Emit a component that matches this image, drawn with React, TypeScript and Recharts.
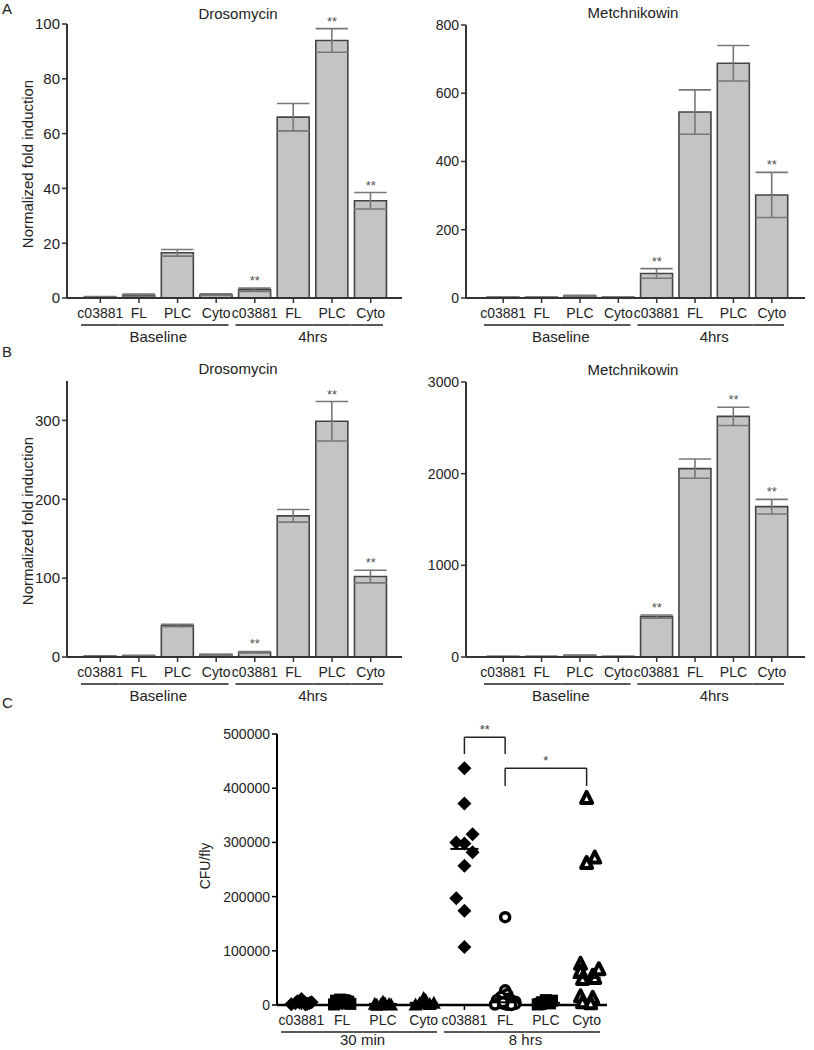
import React from 'react';
import {
  ComposedChart,
  Bar,
  ErrorBar,
  Line,
  LabelList,
  XAxis,
  YAxis,
  ScatterChart,
  Scatter,
  ReferenceLine,
} from 'recharts';

const categories = ['c03881', 'FL', 'PLC', 'Cyto', 'c03881', 'FL', 'PLC', 'Cyto'];
const barGroups = ['Baseline', '4hrs'];
const cfuGroups = ['30 min', '8 hrs'];

// A - fold induction
const aDrosoMean = [0.3, 1.0, 16.5, 1.2, 3.0, 66, 94, 35.5];
const aDrosoSem = [0.2, 0.4, 1.2, 0.3, 0.6, 5, 4.3, 3];
const aDrosoSig = ['', '', '', '', '**', '', '**', '**'];
const aDrosoTicks = [0, 20, 40, 60, 80, 100];

const aMetchMean = [2, 2, 6, 2, 72, 545, 688, 302];
const aMetchSem = [1, 1, 2, 1, 14, 65, 52, 66];
const aMetchSig = ['', '', '', '', '**', '', '', '**'];
const aMetchTicks = [0, 200, 400, 600, 800];

// B - fold induction
const bDrosoMean = [1, 1.5, 40, 3, 6, 179, 299, 102];
const bDrosoSem = [0.5, 0.5, 1.5, 0.5, 1, 8, 25, 8];
const bDrosoSig = ['', '', '', '', '**', '', '**', '**'];
const bDrosoTicks = [0, 100, 200, 300];

const bMetchMean = [5, 5, 15, 5, 440, 2055, 2625, 1640];
const bMetchSem = [2, 2, 5, 2, 18, 105, 100, 80];
const bMetchSig = ['', '', '', '', '**', '', '**', '**'];
const bMetchTicks = [0, 1000, 2000, 3000];

// C - CFU per fly, one list per group (dx = horizontal scatter of the dots)
const c30Cfu = [1500, 3000, 4500, 6000, 9000, 2500, 5000, 7000, 1000, 3500, 11000];
const c30Dx = [-0.25, -0.15, -0.05, 0.05, 0, 0.15, 0.25, -0.1, 0.1, 0.2, 0];
const fl30Cfu = [1000, 3000, 5000, 7000, 9000, 2000, 4000, 6000, 8000, 10000];
const fl30Dx = [-0.2, -0.1, 0, 0.1, 0.05, 0.2, -0.05, 0.15, -0.15, -0.05];
const plc30Cfu = [500, 1500, 3000, 4000, 2000, 1000, 2500, 6000];
const plc30Dx = [-0.15, -0.05, 0.05, 0, 0.15, 0.2, -0.2, 0];
const cyto30Cfu = [1000, 3000, 6000, 9000, 13000, 2000, 4000, 5000];
const cyto30Dx = [-0.2, -0.1, 0, 0.05, 0, 0.15, 0.25, -0.05];
const c8Cfu = [437000, 372000, 315000, 300000, 298000, 282000, 257000, 197000, 174000, 107000];
const c8Dx = [0, 0, 0.2, -0.2, 0, 0.2, 0, -0.2, 0, 0];
const fl8Cfu = [162000, 27000, 20000, 15000, 12000, 9000, 7000, 6000, 4000, 3000, 2000, 1000, 500, 0, 2500, 5000];
const fl8Dx = [0, 0, 0.05, -0.1, 0.1, -0.2, 0.15, 0.25, -0.15, 0.05, 0.25, -0.25, 0.05, 0.15, -0.05, -0.05];
const plc8Cfu = [2000, 4000, 6000, 8000, 3000, 5000, 7000, 1000, 9000];
const plc8Dx = [-0.15, -0.05, 0.05, 0.15, 0.1, -0.1, 0, -0.2, 0];
const cyto8Cfu = [382000, 272000, 262000, 76000, 66000, 62000, 54000, 48000, 50000, 16000, 13000, 5000, 3000];
const cyto8Dx = [0, 0.2, 0, -0.15, 0.3, -0.15, 0.15, -0.1, 0.2, -0.15, 0.15, -0.1, 0.1];
const cfuMedian = [3000, 4000, 2000, 4000, 288000, 5000, 4000, 50000];
const cfuTicks = [0, 100000, 200000, 300000, 400000, 500000];

const brackets = [
  { from: 4, to: 5, top: 494000, low: 463000, mark: '**' },
  { from: 5, to: 7, top: 437000, low: 404000, mark: '*' },
];

const FONT = '"Liberation Sans", Arial, sans-serif';
const axisStyle = { stroke: '#333', strokeWidth: 2 };
const tickStyle = { stroke: '#333', strokeWidth: 1.5 };

function GroupTick(props: any) {
  const { x, y, index, band, groups, groupDy } = props;
  const pos = index % 4;
  const g = Math.floor(index / 4);
  const x1 = x - band / 2;
  const x2 = pos === 3 ? x + band / 2 - 7 : x + band / 2;
  return (
    <g>
      <text x={x} y={y + 13} textAnchor="middle" fontSize={14} fill="#222">
        {categories[index]}
      </text>
      <line x1={x1} x2={x2} y1={y + 20} y2={y + 20} stroke="#222" strokeWidth={1.5} />
      {pos === 1 && (
        <text x={x + band / 2} y={y + groupDy} textAnchor="middle" fontSize={15} fill="#222">
          {groups[g]}
        </text>
      )}
    </g>
  );
}

function BarPanel(p: any) {
  const rows = p.mean.map((m: number, i: number) => ({
    id: 'c' + i,
    mean: m,
    sem: p.sem[i],
    top: m + p.sem[i],
    sig: p.sig[i],
  }));
  const plotW = p.width - p.mLeft - p.mRight - p.yWidth;
  const band = (plotW - p.padL - p.padR) / categories.length;
  return (
    <div style={{ position: 'absolute', left: p.left, top: p.top }}>
      <ComposedChart
        width={p.width}
        height={p.height}
        data={rows}
        margin={{ top: p.mTop, right: p.mRight, left: p.mLeft, bottom: 2 }}
        barCategoryGap="8%"
      >
        <XAxis
          dataKey="id"
          height={50}
          interval={0}
          padding={{ left: p.padL, right: p.padR }}
          axisLine={axisStyle}
          tickLine={tickStyle}
          tickSize={5}
          tick={(t: any) => <GroupTick {...t} band={band} groups={barGroups} groupDy={37} />}
        />
        <YAxis
          width={p.yWidth}
          domain={p.domain}
          ticks={p.ticks}
          allowDataOverflow
          axisLine={axisStyle}
          tickLine={tickStyle}
          tickSize={5}
          tick={{ fontSize: p.yFont, fill: '#222' }}
        />
        <Bar dataKey="mean" fill="#c4c4c4" stroke="#444" strokeWidth={1.6} isAnimationActive={false}>
          <ErrorBar dataKey="sem" width={band * 0.42} stroke="#777" strokeWidth={1.6} direction="y" />
        </Bar>
        <Line dataKey="top" stroke="none" dot={false} activeDot={false} isAnimationActive={false}>
          <LabelList dataKey="sig" position="top" offset={3} fill="#555" fontSize={13} />
        </Line>
      </ComposedChart>
    </div>
  );
}

const Diamond = ({ cx, cy }: any) => (
  <polygon points={`${cx},${cy - 7} ${cx + 7},${cy} ${cx},${cy + 7} ${cx - 7},${cy}`} fill="#000" />
);
const Square = ({ cx, cy }: any) => <rect x={cx - 6} y={cy - 6} width={12} height={12} fill="#000" />;
const Tri = ({ cx, cy }: any) => (
  <polygon points={`${cx},${cy - 7} ${cx + 7},${cy + 6} ${cx - 7},${cy + 6}`} fill="#000" />
);
const OpenTri = ({ cx, cy }: any) => (
  <polygon
    points={`${cx},${cy - 6} ${cx + 5.5},${cy + 5} ${cx - 5.5},${cy + 5}`}
    fill="#fff"
    stroke="#000"
    strokeWidth={4}
    strokeLinejoin="round"
  />
);
const Ring = ({ cx, cy }: any) => <circle cx={cx} cy={cy} r={4.5} fill="#fff" stroke="#000" strokeWidth={3.5} />;
const MedianMark = ({ cx, cy }: any) => (
  <line x1={cx - 14} x2={cx + 14} y1={cy} y2={cy} stroke="#000" strokeWidth={2} />
);

const cfuSeries = [
  { vals: c30Cfu, dx: c30Dx, shape: Diamond },
  { vals: fl30Cfu, dx: fl30Dx, shape: Square },
  { vals: plc30Cfu, dx: plc30Dx, shape: Tri },
  { vals: cyto30Cfu, dx: cyto30Dx, shape: Tri },
  { vals: c8Cfu, dx: c8Dx, shape: Diamond },
  { vals: fl8Cfu, dx: fl8Dx, shape: Ring },
  { vals: plc8Cfu, dx: plc8Dx, shape: Square },
  { vals: cyto8Cfu, dx: cyto8Dx, shape: OpenTri },
];

function CfuPanel() {
  const width = 430;
  const mLeft = 12;
  const mRight = 13;
  const yWidth = 75;
  const dom = [-0.6, 7.5];
  const unit = (width - mLeft - mRight - yWidth) / (dom[1] - dom[0]);
  const medians = cfuMedian.map((m, i) => ({ x: i, y: m }));
  return (
    <div style={{ position: 'absolute', left: 190, top: 700 }}>
      <ScatterChart width={width} height={350} margin={{ top: 34, right: mRight, left: mLeft, bottom: 0 }}>
        <XAxis
          type="number"
          dataKey="x"
          domain={dom}
          ticks={[0, 1, 2, 3, 4, 5, 6, 7]}
          interval={0}
          height={45}
          allowDataOverflow
          axisLine={{ stroke: '#000', strokeWidth: 2.5 }}
          tickLine={{ stroke: '#000', strokeWidth: 1.5 }}
          tickSize={5}
          tick={(t: any) => <GroupTick {...t} band={unit} groups={cfuGroups} groupDy={33} />}
        />
        <YAxis
          type="number"
          dataKey="y"
          width={yWidth}
          domain={[0, 500000]}
          ticks={cfuTicks}
          axisLine={{ stroke: '#000', strokeWidth: 2 }}
          tickLine={{ stroke: '#000', strokeWidth: 1.5 }}
          tickSize={5}
          tick={{ fontSize: 14, fill: '#222' }}
        />
        {cfuSeries.map((s, gi) => (
          <Scatter
            key={gi}
            data={s.vals.map((v, i) => ({ x: gi + s.dx[i], y: v }))}
            shape={(sp: any) => <s.shape {...sp} />}
            isAnimationActive={false}
          />
        ))}
        <Scatter data={medians} shape={(sp: any) => <MedianMark {...sp} />} isAnimationActive={false} />
        {brackets.map((b, i) => (
          <React.Fragment key={i}>
            <ReferenceLine
              segment={[{ x: b.from, y: b.low }, { x: b.from, y: b.top }]}
              stroke="#222"
              strokeWidth={1.5}
              ifOverflow="visible"
            />
            <ReferenceLine
              segment={[{ x: b.to, y: b.low }, { x: b.to, y: b.top }]}
              stroke="#222"
              strokeWidth={1.5}
              ifOverflow="visible"
            />
            <ReferenceLine
              segment={[{ x: b.from, y: b.top }, { x: b.to, y: b.top }]}
              stroke="#222"
              strokeWidth={1.5}
              ifOverflow="visible"
              label={{ value: b.mark, position: 'top', fill: '#444', fontSize: 13, offset: 3 }}
            />
          </React.Fragment>
        ))}
      </ScatterChart>
    </div>
  );
}

export default function App() {
  return (
    <div
      style={{
        position: 'absolute',
        left: 0,
        top: 0,
        width: 814,
        height: 1050,
        background: '#fff',
        fontFamily: FONT,
      }}
    >
      <BarPanel
        left={0} top={0} width={410} height={350}
        mTop={24} mLeft={10} mRight={8} yWidth={57} padL={14} padR={12}
        domain={[0, 100]} ticks={aDrosoTicks} yFont={15}
        mean={aDrosoMean} sem={aDrosoSem} sig={aDrosoSig}
      />
      <BarPanel
        left={400} top={0} width={414} height={350}
        mTop={25} mLeft={16} mRight={9} yWidth={50} padL={18} padR={14}
        domain={[0, 800]} ticks={aMetchTicks} yFont={14}
        mean={aMetchMean} sem={aMetchSem} sig={aMetchSig}
      />
      <BarPanel
        left={0} top={330} width={410} height={379}
        mTop={51} mLeft={10} mRight={8} yWidth={57} padL={14} padR={12}
        domain={[0, 350]} ticks={bDrosoTicks} yFont={15}
        mean={bDrosoMean} sem={bDrosoSem} sig={bDrosoSig}
      />
      <BarPanel
        left={400} top={330} width={414} height={379}
        mTop={52} mLeft={16} mRight={9} yWidth={50} padL={18} padR={14}
        domain={[0, 3000]} ticks={bMetchTicks} yFont={14}
        mean={bMetchMean} sem={bMetchSem} sig={bMetchSig}
      />
      <CfuPanel />
      <svg
        width={814}
        height={1050}
        style={{ position: 'absolute', left: 0, top: 0, pointerEvents: 'none' }}
        fontFamily={FONT}
        fill="#222"
      >
        <text x={2} y={14} fontSize={15}>A</text>
        <text x={2} y={357} fontSize={15}>B</text>
        <text x={2} y={708} fontSize={15}>C</text>
        <text x={238} y={19} fontSize={15} textAnchor="middle">Drosomycin</text>
        <text x={633} y={18} fontSize={15} textAnchor="middle">Metchnikowin</text>
        <text x={238} y={374} fontSize={15} textAnchor="middle">Drosomycin</text>
        <text x={633} y={375} fontSize={15} textAnchor="middle">Metchnikowin</text>
        <text x={33} y={164} fontSize={15} textAnchor="middle" transform="rotate(-90 33 164)">
          Normalized fold induction
        </text>
        <text x={33} y={521} fontSize={15} textAnchor="middle" transform="rotate(-90 33 521)">
          Normalized fold induction
        </text>
        <text x={210} y={866} fontSize={14} textAnchor="middle" transform="rotate(-90 210 866)">
          CFU/fly
        </text>
      </svg>
    </div>
  );
}
